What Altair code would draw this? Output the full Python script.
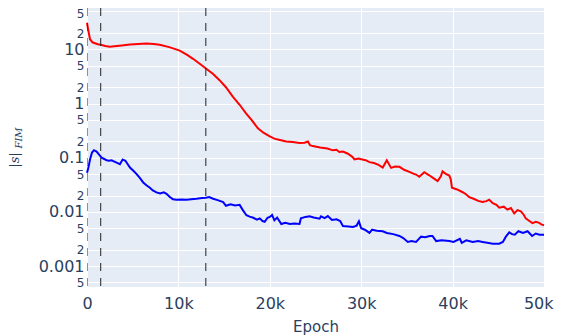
import altair as alt
import pandas as pd

# ---- data ----
red_epoch = [0, 150, 330, 600, 870, 1200, 1600, 2000, 2500, 3000, 3800, 4700, 5600, 6500, 7300, 7960,
             9000, 10150, 11000, 11600, 12300, 13050, 13800, 14500, 15200, 15950, 16700, 17400, 18000,
             18700, 19300, 19950, 20500, 21000, 21800, 22500, 23250, 23800, 24170, 24400, 24700, 25500,
             26300, 26900, 27300, 27600, 28000, 28500, 29000, 29270, 29700, 30000, 30500, 30900, 31400,
             31900, 32360, 32800, 33270, 33700, 34180, 34700, 35270, 35700, 36000, 36360, 36900, 37400,
             37900, 38360, 38700, 38900, 39300, 39640, 39800, 39930, 40500, 41100, 41500, 41820, 42300,
             42800, 43280, 43700, 44000, 44400, 44800, 45100, 45600, 46000, 46380, 46740, 47100, 47470,
             47800, 48000, 48400, 48740, 49100, 49470, 49700, 50000]
red_value = [31, 22, 15.4, 13.5, 13, 12.4, 12, 11.5, 11.2, 11.4, 11.8, 12.3, 12.6, 12.8, 12.6, 12.2,
             11, 9.5, 7.8, 6.7, 5.5, 4.4, 3.5, 2.7, 2.0, 1.34, 0.95, 0.66, 0.5,
             0.35, 0.29, 0.25, 0.225, 0.215, 0.2, 0.195, 0.188, 0.19, 0.2, 0.17, 0.164, 0.155,
             0.148, 0.137, 0.14, 0.128, 0.13, 0.12, 0.105, 0.093, 0.097, 0.094, 0.09, 0.083, 0.08,
             0.074, 0.066, 0.09, 0.065, 0.069, 0.068, 0.06, 0.055, 0.051, 0.049, 0.0445, 0.054, 0.048,
             0.042, 0.037, 0.045, 0.056, 0.05, 0.047, 0.04, 0.028, 0.026, 0.0231, 0.021, 0.0187, 0.0175,
             0.016, 0.0152, 0.0158, 0.0168, 0.0145, 0.0135, 0.012, 0.0125, 0.011, 0.0118, 0.0094, 0.0108, 0.0103,
             0.0088, 0.0076, 0.0068, 0.0062, 0.0066, 0.0063, 0.0059, 0.0057]

blue_epoch = [0, 150, 330, 550, 760, 1050, 1300, 1600, 2150, 2400, 2700, 3000, 3240, 3600, 3900, 4200,
              4700, 5100, 5430, 5800, 6150, 6500, 6880, 7200, 7600, 8000, 8400, 8700, 9060, 9400, 9790,
              10300, 10880, 11400, 11970, 12600, 13000, 13360, 13800, 14300, 14900, 15200, 15700, 16200,
              16700, 17070, 17440, 17800, 18200, 18600, 18900, 19200, 19440, 19750, 20000, 20250, 20500,
              20800, 21260, 21700, 22200, 22700, 23250, 23400, 23900, 24350, 24800, 25450, 25600, 26000,
              26350, 26800, 27300, 27700, 28000, 28600, 29100, 29500, 29750, 30000, 30400, 30900, 31200,
              31700, 32360, 32800, 33500, 34180, 34600, 35100, 35500, 36000, 36550, 37000, 37500, 37800,
              38200, 38800, 39640, 40100, 40800, 41000, 41500, 42200, 42800, 43280, 43800, 44400, 45100,
              45500, 45830, 46200, 46500, 46800, 47200, 47700, 48200, 48700, 49100, 49500, 50000]
blue_value = [0.053, 0.065, 0.093, 0.125, 0.138, 0.13, 0.115, 0.1, 0.09, 0.088, 0.09, 0.085, 0.081, 0.076, 0.093, 0.088,
              0.066, 0.057, 0.05, 0.042, 0.035, 0.031, 0.028, 0.025, 0.023, 0.022, 0.023, 0.0216, 0.0188, 0.0172, 0.0168,
              0.017, 0.0168, 0.0172, 0.0175, 0.018, 0.0182, 0.0188, 0.0175, 0.0165, 0.0152, 0.013, 0.0138, 0.0132,
              0.0135, 0.0107, 0.0087, 0.0082, 0.0078, 0.0072, 0.0076, 0.0068, 0.0066, 0.0078, 0.0081, 0.0088, 0.007,
              0.0079, 0.006, 0.0063, 0.006, 0.0061, 0.006, 0.0076, 0.0081, 0.0083, 0.0079, 0.0075, 0.0083, 0.0077,
              0.0084, 0.0071, 0.0073, 0.0068, 0.0055, 0.0054, 0.0053, 0.0056, 0.0067, 0.005, 0.0047, 0.0041, 0.0047,
              0.0045, 0.0044, 0.0041, 0.0039, 0.0036, 0.0033, 0.0028, 0.0029, 0.0028, 0.0035, 0.0034, 0.0036, 0.0036,
              0.0029, 0.003, 0.0029, 0.0028, 0.0032, 0.0027, 0.003, 0.0028, 0.0029, 0.0028, 0.0027, 0.0026, 0.0026,
              0.0028, 0.0035, 0.0042, 0.0039, 0.0038, 0.0044, 0.0041, 0.0044, 0.0036, 0.004, 0.0038, 0.0038]

vline_epochs = [0, 1500, 13000]
x_ticks = [0, 10000, 20000, 30000, 40000, 50000]
y_ticks = [50, 20, 10, 5, 2, 1, 0.5, 0.2, 0.1, 0.05, 0.02, 0.01, 0.005, 0.002, 0.001, 0.0005]
y_domain = [0.000412, 58]

FONT = "DejaVu Sans"
TXT = "#2a3f5f"

df = pd.concat([
    pd.DataFrame({"Epoch": red_epoch, "val": red_value, "series": "red"}),
    pd.DataFrame({"Epoch": blue_epoch, "val": blue_value, "series": "blue"}),
])

is_major = "abs(log(datum.value)/LN10 - round(log(datum.value)/LN10)) < 0.001"
y_label_expr = (f"({is_major}) ? ('' + datum.value) : "
                "format(datum.value / pow(10, floor(log(datum.value)/LN10 + 1e-9)), '.0f')")
is_last_x = "datum.value >= 50000"
is_top_y = "datum.value >= 40"

x_enc = alt.X("Epoch:Q",
              scale=alt.Scale(domain=[0, 50000], nice=False, zero=False),
              axis=alt.Axis(values=x_ticks, title="Epoch",
                            labelExpr="datum.value == 0 ? '0' : (datum.value/1000) + 'k'",
                            labelFontSize=16, labelColor=TXT, labelFont=FONT, labelPadding=8,
                            labelFlush=False, labelOverlap=False,
                            labelAlign={"condition": {"test": is_last_x, "value": "right"}, "value": "center"},
                            labelOffset={"condition": {"test": is_last_x, "value": 9}, "value": 0},
                            ticks=False, tickSize=0, domain=False,
                            grid=True, gridColor="white", gridWidth=1,
                            titleFontSize=15, titleFont=FONT, titleColor=TXT, titleFontWeight="normal",
                            titlePadding=8))

y_enc = alt.Y("val:Q",
              scale=alt.Scale(type="log", domain=y_domain, nice=False),
              axis=alt.Axis(values=y_ticks, title=None, labelExpr=y_label_expr,
                            labelFontSize={"condition": {"test": is_major, "value": 16}, "value": 12},
                            labelOffset={"condition": {"test": is_top_y, "value": 2}, "value": 0},
                            labelColor=TXT, labelFont=FONT, labelPadding=3,
                            labelFlush=False, labelOverlap=False,
                            ticks=False, tickSize=0, domain=False,
                            grid=True, gridColor="white", gridWidth=1))

lines = alt.Chart(df).mark_line(strokeWidth=2).encode(
    x=x_enc, y=y_enc,
    color=alt.Color("series:N", scale=alt.Scale(domain=["red", "blue"], range=["#ff0000", "#0000ff"]),
                    legend=None),
    detail="series:N",
)

vl = alt.Chart(pd.DataFrame({"Epoch": vline_epochs})).mark_rule(
    color="#222222", strokeWidth=1, strokeDash=[8, 7], clip=True
).encode(x=alt.X("Epoch:Q"))

title_main = alt.Chart(pd.DataFrame({"t": ["|s|"]})).mark_text(
    angle=270, font="DejaVu Serif", fontStyle="italic", fontSize=13, color=TXT,
    align="center", baseline="middle"
).encode(text="t:N", x=alt.value(-72), y=alt.value(152))

title_sub = alt.Chart(pd.DataFrame({"t": ["FIM"]})).mark_text(
    angle=270, font="DejaVu Serif", fontStyle="italic", fontSize=10, color=TXT,
    align="center", baseline="middle"
).encode(text="t:N", x=alt.value(-68), y=alt.value(130))

chart = alt.layer(lines, vl, title_main, title_sub).properties(
    width=457, height=279,
    padding={"left": 79, "top": 0, "right": 10, "bottom": 48},
    autosize=alt.AutoSizeParams(type="none"),
    background="white",
).configure_view(fill="#E5ECF6", stroke=None)

chart.save("out.html", embed_options={"renderer": "svg", "actions": False})
